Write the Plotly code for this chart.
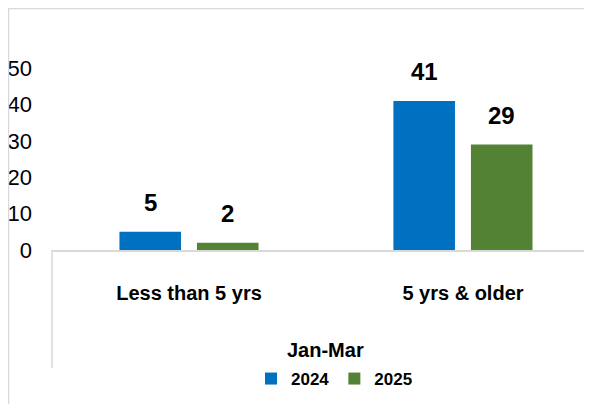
import plotly.graph_objects as go

categories = ["Less than 5 yrs", "5 yrs & older"]
series_names = ["2024", "2025"]
values_2024 = [5, 41]
values_2025 = [2, 29]
y_ticks = [0, 10, 20, 30, 40, 50]
legend_title = "Jan-Mar"

colors = {"2024": "#0070C0", "2025": "#548235"}
FONT = "Liberation Sans, Arial, sans-serif"

# the page body adds an 8px offset; figure is sized so that page coordinates match
OFF = 8
W, H = 592 - OFF, 404 - OFF
PLOT_LEFT, PLOT_TOP, PLOT_BOTTOM = 52, 50, 250   # page pixels
ML = PLOT_LEFT - OFF
MT = PLOT_TOP - OFF
PH = PLOT_BOTTOM - PLOT_TOP
MB = H - MT - PH
MR = 0
plot_w = W - ML - MR
X_RANGE = [-0.5, 1.471]
Y_RANGE = [0, 55]
BARGAP = 0.434
BARGROUPGAP = 0.206


def px(page_x):
    return (page_x - PLOT_LEFT) / plot_w


def py(page_y):
    return (PLOT_BOTTOM - page_y) / PH


fig = go.Figure()
for name, vals in zip(series_names, [values_2024, values_2025]):
    fig.add_trace(go.Bar(
        x=categories, y=vals, name=name,
        marker=dict(color=colors[name], line=dict(width=0)),
        hoverinfo="skip",
    ))

# data labels above bars
cat_px = plot_w / (X_RANGE[1] - X_RANGE[0])
slot_px = cat_px * (1 - BARGAP) / len(series_names)
for i, (name, vals) in enumerate(zip(series_names, [values_2024, values_2025])):
    offset = (i - (len(series_names) - 1) / 2) * slot_px
    for c, v in zip(categories, vals):
        fig.add_annotation(
            x=c, y=v, xref="x", yref="y", text=f"<b>{v}</b>",
            showarrow=False, xshift=offset, yshift=29, yanchor="middle",
            font=dict(family=FONT, size=24, color="black"),
        )

fig.add_annotation(
    x=px(325), y=py(350), xref="paper", yref="paper",
    text=f"<b>{legend_title}</b>", showarrow=False, xanchor="center", yanchor="middle",
    font=dict(family=FONT, size=20, color="black"),
)

grey = "#D9D9D9"
fig.add_shape(type="line", xref="paper", yref="paper",
              x0=px(8), x1=1.02, y0=py(8.5), y1=py(8.5),
              line=dict(color=grey, width=1.5))
fig.add_shape(type="line", xref="paper", yref="paper",
              x0=px(8.5), x1=px(8.5), y0=py(8), y1=py(410),
              line=dict(color=grey, width=1.5))
fig.add_shape(type="line", xref="paper", yref="paper",
              x0=0, x1=0, y0=0, y1=py(368),
              line=dict(color=grey, width=1.5))

fig.update_layout(
    width=W, height=H,
    margin=dict(l=ML, r=MR, t=MT, b=MB),
    paper_bgcolor="white", plot_bgcolor="white",
    barmode="group", bargap=BARGAP, bargroupgap=BARGROUPGAP,
    font=dict(family=FONT, color="black"),
    showlegend=True,
    legend=dict(
        orientation="h", x=px(334.5), xanchor="center",
        y=py(379), yanchor="middle",
        font=dict(family=FONT, size=17, color="black", weight="bold"),
        itemwidth=30, bgcolor="rgba(0,0,0,0)",
    ),
    xaxis=dict(
        range=X_RANGE, showgrid=False, zeroline=False,
        showline=True, linecolor=grey, linewidth=1.5,
        ticks="", ticklabelstandoff=24,
        tickfont=dict(family=FONT, size=20, color="black", weight="bold"),
    ),
    yaxis=dict(
        range=Y_RANGE, tickvals=y_ticks, showgrid=False, zeroline=False,
        showline=False, ticks="", ticklabelstandoff=19,
        tickfont=dict(family=FONT, size=22, color="black"),
    ),
)

fig.write_html("out.html")
